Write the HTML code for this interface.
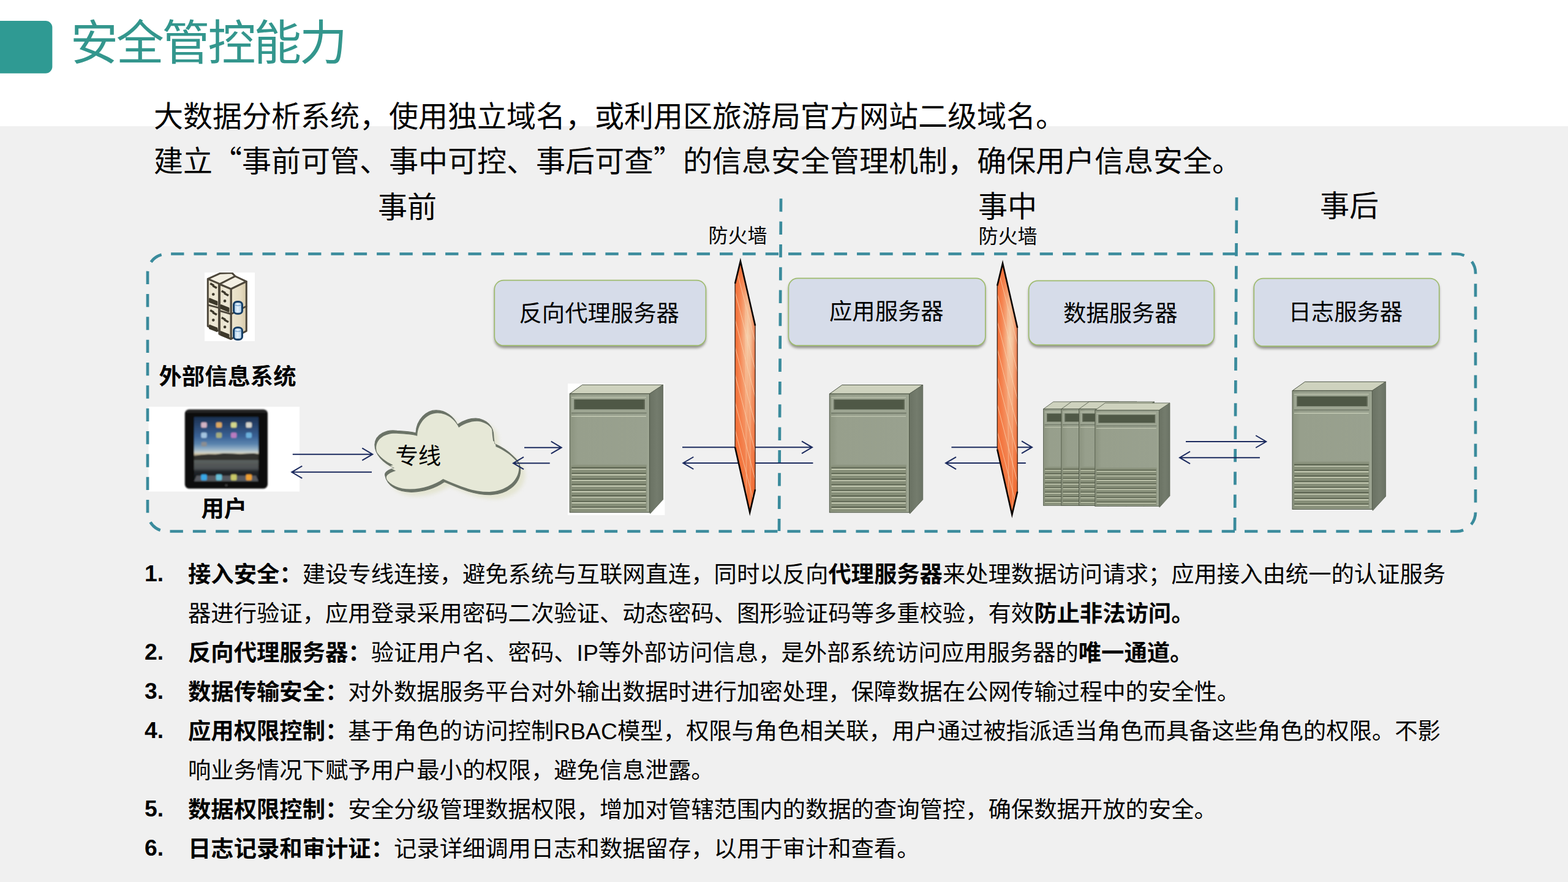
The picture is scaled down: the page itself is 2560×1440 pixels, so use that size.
<!DOCTYPE html>
<html lang="zh-CN">
<head>
<meta charset="utf-8">
<title>安全管控能力</title>
<style>
html,body{margin:0;padding:0;background:#fff}
body{width:2560px;height:1440px;position:relative;overflow:hidden;font-family:"Liberation Sans","Noto Sans CJK SC",sans-serif}
svg{position:absolute;left:0;top:0;display:block}
.t{position:absolute;display:block;margin:0;padding:0;white-space:nowrap;line-height:1.067;font-weight:400;color:#000;font-family:"Liberation Sans","Noto Sans CJK SC",sans-serif;overflow:hidden;height:1.2em}
.t b{font-weight:700}
.t .q{font-family:"Noto Sans CJK SC",sans-serif}
h1.t{color:#33968d;letter-spacing:-0.041em}
ol,li{list-style:none;margin:0;padding:0}
</style>
</head>
<body>
<svg width="2560" height="1440" viewBox="0 0 2560 1440" role="img" aria-label="安全管控能力 示意图"><defs><linearGradient id="srvFront" x1="0" x2="1" y1="0" y2="0"><stop offset="0" stop-color="#8b937f"/><stop offset=".1" stop-color="#979f8c"/><stop offset="1" stop-color="#99a18f"/></linearGradient><linearGradient id="srvSide" x1="0" x2="1" y1="0" y2="0"><stop offset="0" stop-color="#6a7263"/><stop offset=".55" stop-color="#747c6d"/><stop offset="1" stop-color="#6a7264"/></linearGradient><g id="srv"><polygon points="0,0 130.2,0 152.4,-14.6 20.5,-14.6" fill="#ced2be" stroke="#4c5444" stroke-width="1" stroke-linejoin="round"/><polygon points="130.2,0 152.4,-14.6 152.4,172.6 131.3,195.6 130.2,193.6" fill="url(#srvSide)" stroke="#586050" stroke-width=".8" stroke-linejoin="round"/><rect x="0" y="0" width="130.2" height="193.6" fill="url(#srvFront)" stroke="#4c5444" stroke-width="1"/><rect x="2.8" y="6.4" width="122" height="24.2" fill="#9da592"/><path d="M2.8 5.6H124.7" stroke="#c6ccb6" stroke-width="1.1"/><rect x="7" y="9.2" width="115.6" height="16.2" fill="#4f5846"/><path d="M7.8 9.2V25.4M121.8 9.2V25.4" stroke="#646c5a" stroke-width="1.6"/><path d="M2.8 31.4H125.4" stroke="#6a7262" stroke-width="1.3"/><path d="M2.8 36.7H124.7" stroke="#cbd1bb" stroke-width="1.1"/><rect x="2.1" y="116.3" width="123.3" height="75.4" fill="#868e78"/><rect x="2.1" y="115.3" width="123.3" height="2.2" fill="#8f9783"/><path d="M3 120.7H124.6M3 129.86H124.6M3 139.01H124.6M3 148.17H124.6M3 157.33H124.6M3 166.48H124.6M3 175.64H124.6M3 184.8H124.6" stroke="#4a5240" stroke-width="1.1"/><path d="M3.4 123.3H124.4M3.4 132.46H124.4M3.4 141.61H124.4M3.4 150.77H124.4M3.4 159.93H124.4M3.4 169.08H124.4M3.4 178.24H124.4M3.4 187.4H124.4" stroke="#e4e8cf" stroke-width="1.1"/><rect x="126.2" y="1" width="3.4" height="191.8" fill="#9ea693" opacity=".7"/></g><linearGradient id="fwH" x1="0" x2="1" y1="0" y2="0"><stop offset="0" stop-color="#f26a30"/><stop offset=".25" stop-color="#f58a58"/><stop offset=".62" stop-color="#f6d2ae"/><stop offset=".8" stop-color="#f4b890"/><stop offset="1" stop-color="#ec7c50"/></linearGradient><linearGradient id="fwV" x1="0" x2="0" y1="0" y2="1"><stop offset="0" stop-color="#f26c34" stop-opacity=".95"/><stop offset=".14" stop-color="#f47842" stop-opacity=".3"/><stop offset=".3" stop-color="#f47842" stop-opacity="0"/><stop offset=".5" stop-color="#f47842" stop-opacity=".35"/><stop offset=".75" stop-color="#f26c34" stop-opacity=".68"/><stop offset="1" stop-color="#f06428" stop-opacity=".95"/></linearGradient><clipPath id="fwClip"><polygon points="8.8,0 32.9,105.1 32.9,372.6 24.1,410.1 0,303.8 0,36.4"/></clipPath><g id="fw"><polygon points="8.8,0 32.9,105.1 32.9,372.6 24.1,410.1 0,303.8 0,36.4" fill="url(#fwH)"/><polygon points="8.8,0 32.9,105.1 32.9,372.6 24.1,410.1 0,303.8 0,36.4" fill="url(#fwV)"/><path d="M0 -40L33 87M0 5L33 132M0 50L33 177M0 95L33 222M0 140L33 267M0 185L33 312M0 230L33 357M0 275L33 402M0 320L33 447M0 365L33 492" stroke="#fbd6b4" stroke-width=".9" fill="none" clip-path="url(#fwClip)" opacity=".8"/><path d="M17 70L18.5 395M24 120L25 400" stroke="#fad0ae" stroke-width=".8" opacity=".7" clip-path="url(#fwClip)"/><polygon points="8.8,0 32.9,105.1 32.9,372.6 24.1,410.1 0,303.8 0,36.4" fill="none" stroke="#2a1206" stroke-width="1.2" stroke-linejoin="miter"/><path d="M0 36.4 L8.8 0 L32.9 105.1 M32.9 372.6 L24.1 410.1 L0 303.8" fill="none" stroke="#0a0402" stroke-width="2.6" stroke-linejoin="miter" stroke-miterlimit="10"/></g><filter id="sh" x="-10%" y="-20%" width="120%" height="150%"><feGaussianBlur stdDeviation="2.2"/></filter><filter id="cb" x="-10%" y="-10%" width="125%" height="125%"><feGaussianBlur stdDeviation="3"/></filter><path id="cl" d="M611.9 726C613 708 632 701 648.3 703.4C660 704 672 705 679 707C680 684 697 669.5 712.5 669.9C728 670 741 681 746.8 693.2C756 687 766 683 776.7 683C794 684 806 696 805.8 712C806 717 807 721 807.3 724.6C820 730 830 737 837.9 745C846 752 850 760 849.6 768.3C849 792 826 807 801.5 807.7C772 808 748 796 725.6 786.6C712 796 693 803 671.7 803.3C650 803 632 794 628.6 775.6C628 771 634 767 644 764C626 756 612 742 611.9 726Z"/><clipPath id="clA"><use href="#cl" transform="translate(2.2 4.7)"/></clipPath><clipPath id="clB"><use href="#cl" transform="translate(-2.2 -4.7)"/></clipPath><linearGradient id="ipS" x1="0" x2="0" y1="0" y2="1"><stop offset="0" stop-color="#1b3050"/><stop offset=".15" stop-color="#2a4872"/><stop offset=".3" stop-color="#3a6296"/><stop offset=".42" stop-color="#5a84ae"/><stop offset=".5" stop-color="#94b0c6"/><stop offset=".55" stop-color="#c8d0cc"/><stop offset=".575" stop-color="#cfc4a6"/><stop offset=".6" stop-color="#8c8470"/><stop offset=".61" stop-color="#34342f"/><stop offset=".665" stop-color="#3c3d3a"/><stop offset=".675" stop-color="#5a605e"/><stop offset=".8" stop-color="#4c5052"/><stop offset=".85" stop-color="#22262a"/><stop offset=".9" stop-color="#1a1e22"/><stop offset="1" stop-color="#14161a"/></linearGradient><filter id="ipb" x="-5%" y="-5%" width="110%" height="110%"><feGaussianBlur stdDeviation=".9"/></filter><linearGradient id="exR" x1="0" x2="1" y1="0" y2="0"><stop offset="0" stop-color="#ece5cf"/><stop offset=".6" stop-color="#e6dcc2"/><stop offset="1" stop-color="#d6c9a8"/></linearGradient><linearGradient id="exF" x1="0" x2="1" y1="0" y2="0"><stop offset="0" stop-color="#e4dcc4"/><stop offset=".5" stop-color="#eee9d8"/><stop offset="1" stop-color="#e8e1cb"/></linearGradient><linearGradient id="exC" x1="0" x2="1" y1="0" y2="0"><stop offset="0" stop-color="#9cc6ea"/><stop offset=".45" stop-color="#e6f2fb"/><stop offset="1" stop-color="#a8cdec"/></linearGradient><filter id="exb" x="-5%" y="-5%" width="110%" height="110%"><feGaussianBlur stdDeviation=".7"/></filter><clipPath id="exc"><rect x="334" y="445" width="82" height="112.4"/></clipPath></defs><rect x="0" y="206" width="2560" height="1234" fill="#f0f0f0"/><rect x="-20" y="34" width="105.4" height="85.7" rx="11" fill="#2f9a93"/><rect x="334" y="445" width="82" height="112" fill="#fff"/><rect x="242.5" y="664" width="246.5" height="138.5" fill="#fff"/><rect x="927" y="626.3" width="158.4" height="214.8" fill="#fff"/><path d="M272 414.5H2378A31 31 0 0 1 2409 445.5V836.5A31 31 0 0 1 2378 867.5H272A31 31 0 0 1 241 836.5V445.5A31 31 0 0 1 272 414.5Z" fill="none" stroke="#3a8b9c" stroke-width="4.7" stroke-dasharray="21.33 16" stroke-dashoffset="30.2"/><path d="M1275 324.3L1272 867" fill="none" stroke="#3a8b9c" stroke-width="4.7" stroke-dasharray="21.33 16"/><path d="M2019 322.3L2016 867" fill="none" stroke="#3a8b9c" stroke-width="4.7" stroke-dasharray="21.33 16"/><rect x="807.3" y="460.6" width="345.1" height="107.6" rx="15" fill="#3c3c30" opacity=".55" filter="url(#sh)"/><rect x="807.3" y="457.6" width="345.1" height="106.6" rx="15" fill="#d6dce9" stroke="#9ebb6e" stroke-width="1.7"/><rect x="1287.4" y="457.4" width="321.4" height="110.8" rx="15" fill="#3c3c30" opacity=".55" filter="url(#sh)"/><rect x="1287.4" y="454.4" width="321.4" height="109.8" rx="15" fill="#d6dce9" stroke="#9ebb6e" stroke-width="1.7"/><rect x="1679.6" y="461.3" width="302.7" height="105.9" rx="15" fill="#3c3c30" opacity=".55" filter="url(#sh)"/><rect x="1679.6" y="458.3" width="302.7" height="104.9" rx="15" fill="#d6dce9" stroke="#9ebb6e" stroke-width="1.7"/><rect x="2047.3" y="457.6" width="302.4" height="111.6" rx="15" fill="#3c3c30" opacity=".55" filter="url(#sh)"/><rect x="2047.3" y="454.6" width="302.4" height="110.6" rx="15" fill="#d6dce9" stroke="#9ebb6e" stroke-width="1.7"/><use href="#cl" fill="#e2e3cd" opacity=".85" transform="translate(8 7)" filter="url(#cb)"/><use href="#cl" fill="#6b7367" stroke="#6b7367" stroke-width="1.2"/><g clip-path="url(#clA)"><g clip-path="url(#clB)"><use href="#cl" fill="#e6e8d7"/></g></g><path d="M477.8 741.7H608.3M591.3 731.7L608.3 741.7L591.3 751.7M607 770.8H476.3M493.3 760.8L476.3 770.8L493.3 780.8M856 730.7H916.7M899.7 720.7L916.7 730.7L899.7 740.7M897.7 756.2H838M855 746.2L838 756.2L855 766.2M1114 730.3H1326M1309 720.3L1326 730.3L1309 740.3M1327.4 756H1115.3M1132.3 746L1115.3 756L1132.3 766M1553.4 730.2H1685M1668 720.2L1685 730.2L1668 740.2M1674.8 756.1H1544M1561 746.1L1544 756.1L1561 766.1M1936 721H2067.2M2050.2 711L2067.2 721L2050.2 731M2056.9 747.2H1926M1943 737.2L1926 747.2L1943 757.2" fill="none" stroke="#1b2a5e" stroke-width="2" stroke-linejoin="miter"/><use href="#srv" x="930.2" y="642.9"/><use href="#srv" x="1354.3" y="643.1"/><use href="#srv" x="2110" y="637.9"/><use href="#srv" transform="translate(1703.4 667.8) scale(.806 .8135)"/><use href="#srv" transform="translate(1732.8 667.8) scale(.806 .8135)"/><use href="#srv" transform="translate(1761.6 667.8) scale(.806 .8135)"/><use href="#srv" transform="translate(1787.8 669.8) scale(.802 .81)"/><use href="#fw" x="1200.1" y="426.5"/><use href="#fw" x="1628.2" y="430"/><g filter="url(#ipb)"><rect x="301.8" y="668.5" width="135.2" height="129.2" rx="7" fill="#0c0c0c"/><rect x="303.2" y="669.5" width="132.8" height="4" rx="3" fill="#3a3a3a" opacity=".6"/><rect x="316.9" y="680.8" width="105" height="105" fill="url(#ipS)"/><path d="M316.9 744.6L328 742.5L340 741.4L352 741.8L365.4 740L380 740.6L392 741.2L404 740.4L413.8 740L421.9 741.2V751H316.9Z" fill="#32322e"/><path d="M321 776.5H418L421.9 785.8H316.9Z" fill="#80848a" opacity=".6"/><rect x="328.3" y="689.5" width="9.4" height="8.8" rx="2.2" fill="#d4b4c4"/><rect x="352.8" y="689.5" width="9.4" height="8.8" rx="2.2" fill="#dca860"/><rect x="377" y="689.5" width="9.4" height="8.8" rx="2.2" fill="#d4d88c"/><rect x="401.6" y="689.5" width="9.4" height="8.8" rx="2.2" fill="#d4d4cc"/><rect x="328.3" y="706.2" width="9.4" height="8.8" rx="2.2" fill="#a4c4e0"/><rect x="352.8" y="706.2" width="9.4" height="8.8" rx="2.2" fill="#a4ac80"/><rect x="377" y="706.2" width="9.4" height="8.8" rx="2.2" fill="#b87cc0"/><rect x="401.6" y="706.2" width="9.4" height="8.8" rx="2.2" fill="#6cb0dc"/><rect x="328.6" y="721.4" width="9" height="7.6" rx="2.2" fill="#8a8e92"/><rect x="328.2" y="774.6" width="9.6" height="9.6" rx="2.2" fill="#38a8e8"/><rect x="352.7" y="774.6" width="9.6" height="9.6" rx="2.2" fill="#68c0d8"/><rect x="376.9" y="774.6" width="9.6" height="9.6" rx="2.2" fill="#c8c868"/><rect x="401.5" y="774.6" width="9.6" height="9.6" rx="2.2" fill="#f0a030"/><circle cx="369.5" cy="792.3" r="2" fill="#3a3a3a"/></g><g clip-path="url(#exc)"><g filter="url(#exb)"><polygon points="339.3,455.4 359.7,446.2 378.8,445.6 384,451 358.4,464" fill="#f3efe2" stroke="#4e473b" stroke-width="3.0" stroke-linejoin="round"/><polygon points="339.3,455.4 357.6,463.2 357.6,540.4 339.3,532.6" fill="url(#exF)" stroke="#4e473b" stroke-width="3.0" stroke-linejoin="round"/><polygon points="358.4,464 384,451 402.3,459.7 377.1,471.9" fill="#f4f0e4" stroke="#4e473b" stroke-width="3.0" stroke-linejoin="round"/><polygon points="377.1,471.9 402.3,459.7 402.3,540.4 377.1,553.5" fill="url(#exR)" stroke="#4e473b" stroke-width="3.0" stroke-linejoin="round"/><polygon points="358.4,464 377.1,471.9 377.1,553.5 358.4,545.6" fill="url(#exF)" stroke="#4e473b" stroke-width="3.0" stroke-linejoin="round"/><path d="M339.3 497.9L357.6 502.7M358.4 507.4L377.1 512.7L402.3 500.1" fill="none" stroke="#4e473b" stroke-width="2.8" stroke-linecap="round"/><path d="M358 464V546" stroke="#4e473b" stroke-width="3"/><path d="M361.8 475l6.3 3.52M366.09 478.7l6.93 3.77" stroke="#3e382c" stroke-width="3.4" fill="none" stroke-linecap="butt"/><circle cx="367.1" cy="491.4" r="2.3" fill="#3e382c"/><polygon points="360.8,498 373.4,503.04 373.4,508.64 360.8,503.6" fill="#3e382c" stroke="#3e382c" stroke-width="2.2" stroke-linejoin="round"/><path d="M361.8 518.4l6.3 3.52M366.09 522.1l6.93 3.77" stroke="#3e382c" stroke-width="3.4" fill="none" stroke-linecap="butt"/><circle cx="367.1" cy="533.9" r="2.3" fill="#3e382c"/><polygon points="360.8,541.4 373.4,546.44 373.4,552.04 360.8,547" fill="#3e382c" stroke="#3e382c" stroke-width="2.2" stroke-linejoin="round"/><path d="M343.2 462.8l6.05 3.42M347.28 466.5l6.66 3.66" stroke="#3e382c" stroke-width="3.4" fill="none" stroke-linecap="butt"/><circle cx="348.25" cy="480.5" r="2.3" fill="#3e382c"/><polygon points="342.2,487.6 354.3,492.44 354.3,497.84 342.2,493" fill="#3e382c" stroke="#3e382c" stroke-width="2.2" stroke-linejoin="round"/><path d="M343.2 506.5l6.05 3.42M347.28 510.2l6.66 3.66" stroke="#3e382c" stroke-width="3.4" fill="none" stroke-linecap="butt"/><circle cx="348.25" cy="522.6" r="2.3" fill="#3e382c"/><polygon points="342.2,531 354.3,535.84 354.3,541.04 342.2,536.2" fill="#3e382c" stroke="#3e382c" stroke-width="2.2" stroke-linejoin="round"/><rect x="381.6" y="492.6" width="13.8" height="19.6" rx="5.5" ry="4.5" fill="url(#exC)" stroke="#173f68" stroke-width="3.1"/><path d="M383.4 497.8q5.1 2.6 10.2 0" fill="none" stroke="#5f93c4" stroke-width="1.1"/><rect x="381.6" y="534.8" width="13.8" height="19.6" rx="5.5" ry="4.5" fill="url(#exC)" stroke="#173f68" stroke-width="3.1"/><path d="M383.4 540q5.1 2.6 10.2 0" fill="none" stroke="#5f93c4" stroke-width="1.1"/></g></g></svg>
<div id="text-layer">
<h1 class="t" style="left:115px;top:29.96px;font-size:78px">安全管控能力</h1>
<p class="t" style="left:251px;top:164.66px;font-size:48px">大数据分析系统，使用独立域名，或利用区旅游局官方网站二级域名。</p>
<p class="t" style="left:251px;top:234.06px;font-size:48px">建立<span class="q">“</span>事前可管、事中可控、事后可查<span class="q">”</span>的信息安全管理机制，确保用户信息安全。</p>
<div class="t" style="left:617px;top:313.46px;font-size:48px">事前</div>
<div class="t" style="left:1597px;top:312.16px;font-size:48px">事中</div>
<div class="t" style="left:2155px;top:310.96px;font-size:48px">事后</div>
<div class="t" style="left:1156.5px;top:367.84px;font-size:32px">防火墙</div>
<div class="t" style="left:1597.5px;top:368.84px;font-size:32px">防火墙</div>
<div class="t" style="left:847.5px;top:492.55px;font-size:37.33px">反向代理服务器</div>
<div class="t" style="left:1354px;top:490.15px;font-size:37.33px">应用服务器</div>
<div class="t" style="left:1736px;top:492.85px;font-size:37.33px">数据服务器</div>
<div class="t" style="left:2103.5px;top:491.45px;font-size:37.33px">日志服务器</div>
<div class="t" style="left:259.5px;top:595.65px;font-size:37.33px"><b>外部信息系统</b></div>
<div class="t" style="left:328.5px;top:812.15px;font-size:37.33px"><b>用户</b></div>
<div class="t" style="left:645.5px;top:726.35px;font-size:37.33px">专线</div>
<ol>
<li><span class="t" style="left:236px;top:916.85px;font-size:37.33px"><b>1.</b></span><span class="t" style="left:307px;top:918.85px;font-size:37.33px"><b>接入安全：</b>建设专线连接，避免系统与互联网直连，同时以反向<b>代理服务器</b>来处理数据访问请求；应用接入由统一的认证服务</span><span class="t" style="left:307px;top:982.85px;font-size:37.33px">器进行验证，应用登录采用密码二次验证、动态密码、图形验证码等多重校验，有效<b>防止非法访问。</b></span></li>
<li><span class="t" style="left:236px;top:1044.85px;font-size:37.33px"><b>2.</b></span><span class="t" style="left:307px;top:1046.85px;font-size:37.33px"><b>反向代理服务器：</b>验证用户名、密码、IP等外部访问信息，是外部系统访问应用服务器的<b>唯一通道。</b></span></li>
<li><span class="t" style="left:236px;top:1108.85px;font-size:37.33px"><b>3.</b></span><span class="t" style="left:307px;top:1110.85px;font-size:37.33px"><b>数据传输安全：</b>对外数据服务平台对外输出数据时进行加密处理，保障数据在公网传输过程中的安全性。</span></li>
<li><span class="t" style="left:236px;top:1172.85px;font-size:37.33px"><b>4.</b></span><span class="t" style="left:307px;top:1174.85px;font-size:37.33px"><b>应用权限控制：</b>基于角色的访问控制RBAC模型，权限与角色相关联，用户通过被指派适当角色而具备这些角色的权限。不影</span><span class="t" style="left:307px;top:1238.85px;font-size:37.33px">响业务情况下赋予用户最小的权限，避免信息泄露。</span></li>
<li><span class="t" style="left:236px;top:1300.85px;font-size:37.33px"><b>5.</b></span><span class="t" style="left:307px;top:1302.85px;font-size:37.33px"><b>数据权限控制：</b>安全分级管理数据权限，增加对管辖范围内的数据的查询管控，确保数据开放的安全。</span></li>
<li><span class="t" style="left:236px;top:1364.85px;font-size:37.33px"><b>6.</b></span><span class="t" style="left:307px;top:1366.85px;font-size:37.33px"><b>日志记录和审计证：</b>记录详细调用日志和数据留存，以用于审计和查看。</span></li>
</ol>
</div>
</body>
</html>
